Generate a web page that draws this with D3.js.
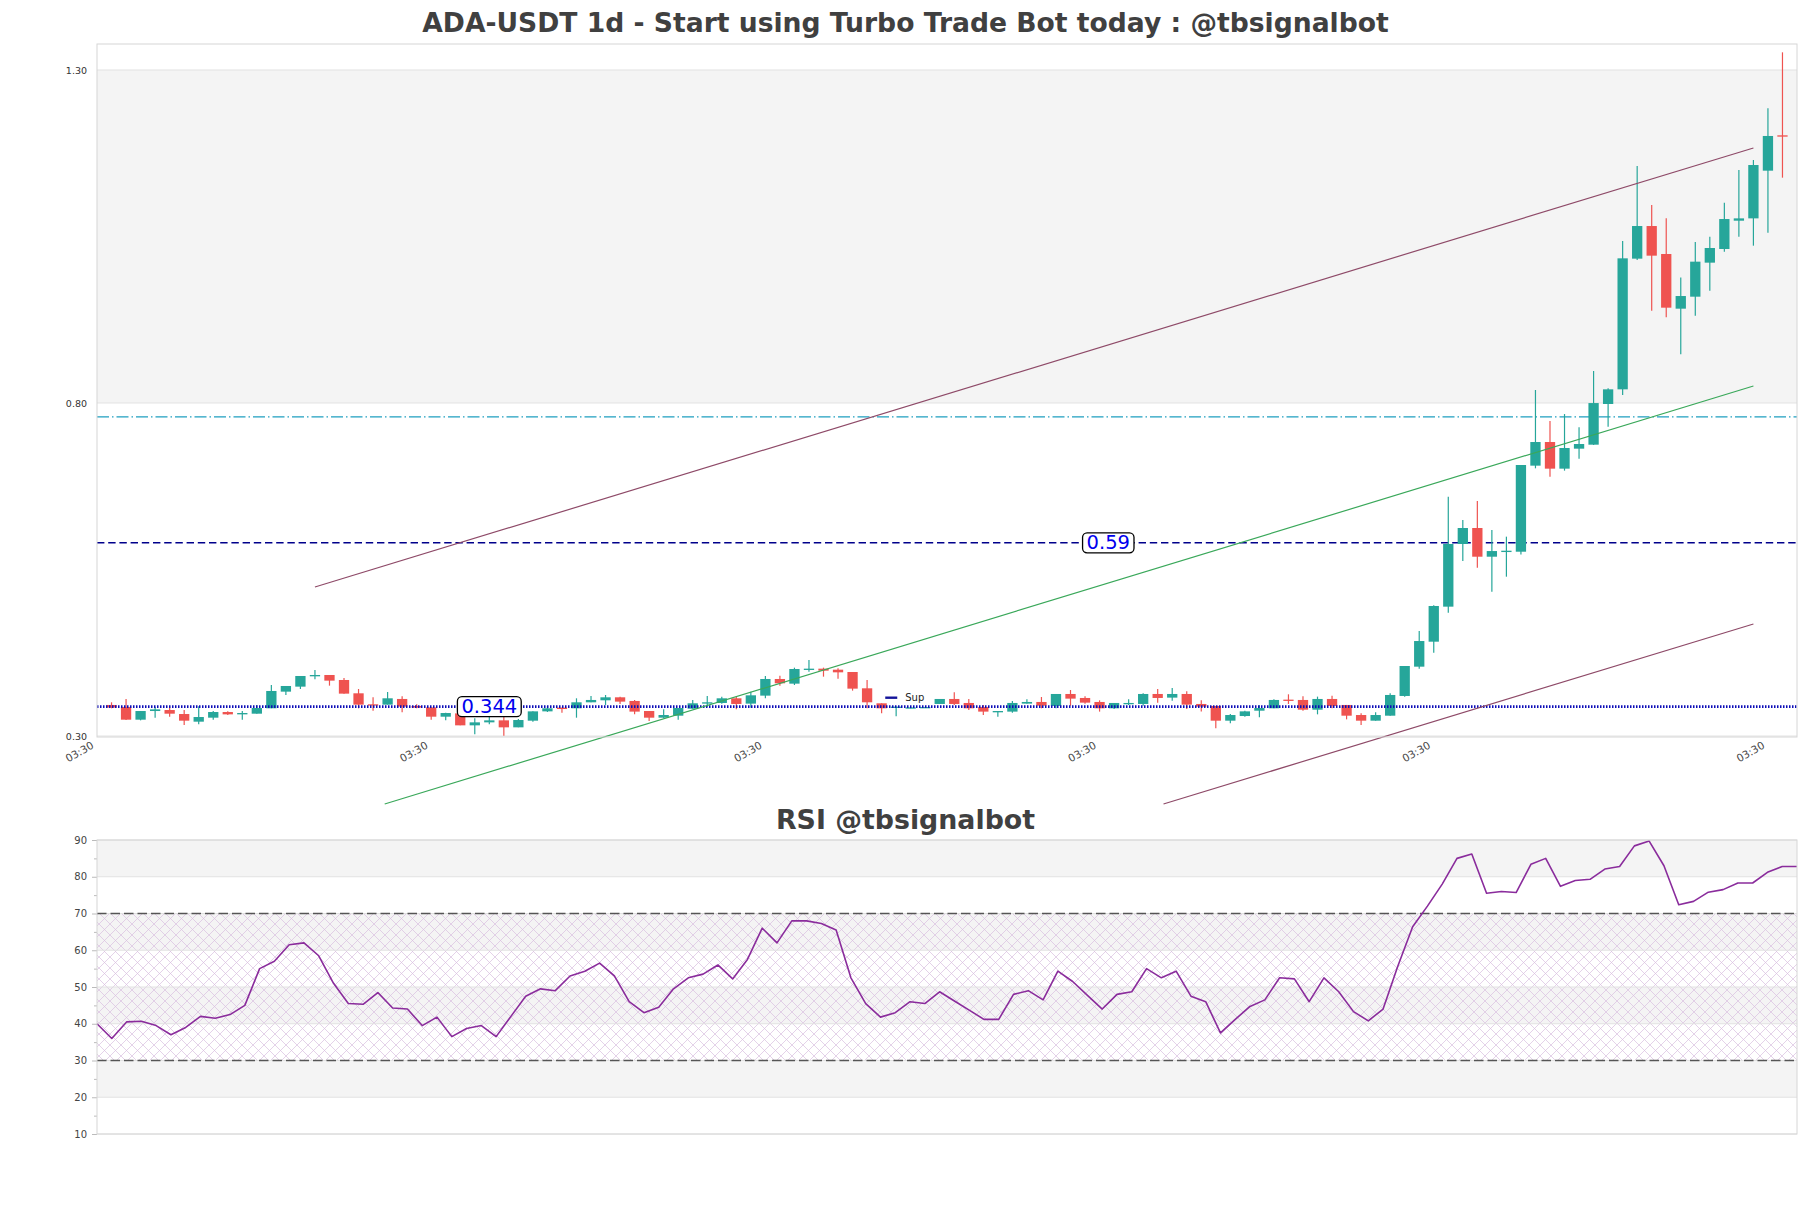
<!DOCTYPE html>
<html><head><meta charset="utf-8">
<script src="https://cdn.jsdelivr.net/npm/d3@7"></script>
<style>
body{margin:0;background:#fff}
svg{display:block}
text{font-family:"DejaVu Sans",sans-serif}
</style>
</head><body>
<svg id="chart" width="1811" height="1208"></svg>
<script>
// ---------------- DATA ----------------
const opens = [0.3466,0.3436,0.3245,0.3375,0.3390,0.3330,0.3215,0.3275,0.3360,0.3325,
0.3335,0.3416,0.3666,0.3741,0.3896,0.3916,0.3841,0.3641,0.3476,0.3471,
0.3556,0.3451,0.3430,0.3290,0.3340,0.3160,0.3205,0.3235,0.3130,0.3230,
0.3370,0.3426,0.3416,0.3506,0.3536,0.3581,0.3526,0.3375,0.3275,0.3305,
0.3410,0.3486,0.3496,0.3566,0.3486,0.3606,0.3856,0.3786,0.3996,0.4011,
0.3996,0.3961,0.3716,0.3491,0.3421,0.3420,0.3430,0.3481,0.3556,0.3496,
0.3436,0.3366,0.3366,0.3486,0.3511,0.3451,0.3631,0.3571,0.3511,0.3416,
0.3481,0.3481,0.3631,0.3576,0.3631,0.3481,0.3451,0.3230,0.3300,0.3380,
0.3416,0.3546,0.3541,0.3395,0.3556,0.3466,0.3315,0.3230,0.3305,0.3601,
0.4041,0.4416,0.4942,0.5883,0.6123,0.5692,0.5762,0.5767,0.7059,0.7414,
0.7014,0.7314,0.7374,0.7985,0.8205,1.0167,1.0657,1.0237,0.9416,0.9596,
1.0107,1.0312,1.0737,1.0772,1.1488,1.2019];
const highs = [0.3506,0.3556,0.3375,0.3435,0.3430,0.3390,0.3445,0.3375,0.3370,0.3375,
0.3466,0.3766,0.3751,0.3901,0.3991,0.3916,0.3871,0.3706,0.3581,0.3661,
0.3596,0.3476,0.3430,0.3350,0.3340,0.3265,0.3300,0.3300,0.3255,0.3370,
0.3451,0.3426,0.3566,0.3601,0.3616,0.3591,0.3541,0.3375,0.3400,0.3420,
0.3541,0.3601,0.3591,0.3591,0.3666,0.3901,0.3906,0.4026,0.4141,0.4026,
0.4016,0.3961,0.3841,0.3491,0.3441,0.3435,0.3440,0.3556,0.3656,0.3556,
0.3466,0.3375,0.3526,0.3551,0.3586,0.3631,0.3691,0.3596,0.3536,0.3496,
0.3551,0.3641,0.3706,0.3721,0.3671,0.3536,0.3451,0.3330,0.3380,0.3461,
0.3551,0.3626,0.3596,0.3591,0.3606,0.3466,0.3341,0.3355,0.3641,0.4051,
0.4576,0.4962,0.6593,0.6243,0.6528,0.6093,0.5993,0.7069,0.8195,0.7729,
0.7834,0.7634,0.8480,0.8220,1.0432,1.1558,1.0973,1.0772,0.9886,1.0417,
1.0497,1.1008,1.1498,1.1648,1.2424,1.3265];
const lows = [0.3416,0.3240,0.3235,0.3275,0.3290,0.3165,0.3175,0.3245,0.3315,0.3245,
0.3335,0.3416,0.3616,0.3706,0.3851,0.3756,0.3636,0.3416,0.3380,0.3471,
0.3355,0.3416,0.3245,0.3235,0.3160,0.3025,0.3175,0.3005,0.3130,0.3215,
0.3360,0.3350,0.3275,0.3506,0.3466,0.3481,0.3325,0.3225,0.3265,0.3245,
0.3410,0.3441,0.3486,0.3400,0.3426,0.3566,0.3756,0.3766,0.3966,0.3891,
0.3861,0.3681,0.3416,0.3341,0.3295,0.3415,0.3420,0.3481,0.3466,0.3391,
0.3315,0.3290,0.3350,0.3486,0.3416,0.3416,0.3455,0.3486,0.3366,0.3405,
0.3466,0.3455,0.3501,0.3531,0.3405,0.3366,0.3116,0.3190,0.3290,0.3280,
0.3416,0.3481,0.3380,0.3325,0.3416,0.3250,0.3165,0.3230,0.3305,0.3591,
0.4011,0.4251,0.4852,0.5627,0.5527,0.5167,0.5392,0.5727,0.7019,0.6894,
0.6984,0.7164,0.7370,0.7644,0.8120,1.0147,0.9386,0.9286,0.8730,0.9311,
0.9686,1.0272,1.0497,1.0362,1.0557,1.1383];
const closes = [0.3426,0.3245,0.3375,0.3400,0.3335,0.3230,0.3285,0.3360,0.3325,0.3345,
0.3420,0.3676,0.3751,0.3901,0.3916,0.3831,0.3636,0.3471,0.3466,0.3566,
0.3441,0.3426,0.3290,0.3345,0.3160,0.3205,0.3235,0.3130,0.3240,0.3370,
0.3416,0.3405,0.3506,0.3541,0.3581,0.3516,0.3366,0.3275,0.3315,0.3420,
0.3491,0.3506,0.3566,0.3481,0.3611,0.3856,0.3791,0.4006,0.4011,0.3981,
0.3956,0.3711,0.3506,0.3416,0.3441,0.3430,0.3435,0.3556,0.3481,0.3416,
0.3366,0.3375,0.3496,0.3511,0.3455,0.3631,0.3561,0.3501,0.3416,0.3496,
0.3496,0.3631,0.3571,0.3631,0.3471,0.3441,0.3230,0.3315,0.3370,0.3420,
0.3541,0.3531,0.3395,0.3556,0.3451,0.3305,0.3230,0.3315,0.3616,0.4051,
0.4426,0.4952,0.5883,0.6123,0.5692,0.5777,0.5782,0.7069,0.7414,0.7014,
0.7324,0.7384,0.7999,0.8205,1.0172,1.0657,1.0212,0.9431,0.9606,1.0122,
1.0327,1.0762,1.0772,1.1573,1.2009,1.1999];

const rsiValues = [40.0,36.0,40.5,40.7,39.5,37.0,39.0,42.0,41.5,42.5,
45.0,55.0,57.0,61.5,62.0,58.5,51.0,45.5,45.3,48.5,
44.3,44.0,39.5,41.8,36.5,38.7,39.5,36.5,42.0,47.5,
49.5,49.0,53.0,54.3,56.5,53.0,46.0,43.0,44.5,49.5,
52.5,53.5,56.0,52.2,57.5,66.0,62.0,68.0,68.0,67.3,
65.5,52.5,45.5,41.8,43.0,46.0,45.5,48.7,46.2,43.7,
41.2,41.2,48.0,49.0,46.5,54.3,51.5,47.7,44.0,48.0,
48.7,55.0,52.5,54.3,47.5,46.0,37.5,41.2,44.7,46.5,
52.5,52.2,46.0,52.5,48.7,43.3,40.8,44.0,55.7,66.4,
72.0,78.0,85.0,86.2,75.5,76.0,75.7,83.4,85.0,77.4,
79.0,79.3,82.1,82.8,88.4,89.7,83.0,72.4,73.3,75.8,
76.5,78.3,78.3,81.2,82.8,82.8];

const priceTicks = [0.30, 0.80, 1.30];
const priceTickLabels = ["0.30", "0.80", "1.30"];
const timeTicks = [-1, 22, 45, 68, 91, 114];
const timeTickLabels = ["03:30", "03:30", "03:30", "03:30", "03:30", "03:30"];
const rsiTicks = [10, 20, 30, 40, 50, 60, 70, 80, 90];
const rsiMinorTicks = [15, 25, 35, 45, 55, 65, 75, 85];

// channel / trend lines: [startIndex, startPrice, endIndex, endPrice]
const upperChannel = [14.0, 0.5237, 113.0, 1.1829];
const lowerChannel = [72.4, 0.1979, 113.0, 0.4682];
const greenTrend = [18.8, 0.1979, 113.0, 0.8255];

const supportLevel = 0.344;
const midLevel = 0.59;
const resistLevel = 0.779;
const supportLabelIndex = 26;
const midLabelIndex = 68.6;
const legendIndex = 53.25;
const legendPrice = 0.3575;

const titleText = "ADA-USDT 1d - Start using Turbo Trade Bot today : @tbsignalbot";
const rsiTitleText = "RSI @tbsignalbot";

// ---------------- DRAW ----------------
const W = 1811, H = 1208;
const svg = d3.select("#chart");
const L = 97, R = 1797, T = 44, B = 737;
const RT = 840, RB = 1134;
const N = opens.length;

const x = d3.scaleLinear().domain([-1, N]).range([L, R]);
const y = d3.scaleLinear().domain([0.2985, 1.339]).range([B, T]);
const xr = d3.scaleLinear().domain([0, N - 1]).range([L, R]);
const yr = d3.scaleLinear().domain([10, 90]).range([RB, RT]);

const defs = svg.append("defs");
const pat = defs.append("pattern").attr("id", "hatch").attr("patternUnits", "userSpaceOnUse")
  .attr("width", 11).attr("height", 11);
pat.append("path").attr("d", "M0,0L11,11M11,0L0,11M-1,10L1,12M10,-1L12,1")
  .attr("stroke", "#d9bfe0").attr("stroke-width", 0.7).attr("fill", "none");

// Titles
svg.append("text").attr("x", W / 2).attr("y", 32).attr("text-anchor", "middle")
  .attr("font-size", 26.6).attr("font-weight", "bold").attr("fill", "#404040").text(titleText);
svg.append("text").attr("x", W / 2).attr("y", 829).attr("text-anchor", "middle")
  .attr("font-size", 26.8).attr("font-weight", "bold").attr("fill", "#404040").text(rsiTitleText);

// ---- Main panel background bands
const main = svg.append("g");
main.append("rect").attr("x", L).attr("width", R - L)
  .attr("y", y(priceTicks[2])).attr("height", y(priceTicks[1]) - y(priceTicks[2]))
  .attr("fill", "#f4f4f4");
priceTicks.forEach(t => {
  main.append("line").attr("x1", L).attr("x2", R).attr("y1", y(t)).attr("y2", y(t))
    .attr("stroke", "#e2e2e2").attr("stroke-width", 1);
});

// y tick labels
const yAxis = d3.axisLeft(y).tickValues(priceTicks).tickSize(0).tickPadding(10)
  .tickFormat((d, i) => priceTickLabels[i]);
const yg = main.append("g").attr("transform", `translate(${L},0)`).call(yAxis);
yg.select(".domain").remove();
yg.selectAll("text").attr("font-size", 9.5).attr("fill", "#333").attr("font-family", "DejaVu Sans");

// x tick labels
const xAxis = d3.axisBottom(x).tickValues(timeTicks).tickSize(0).tickFormat((d, i) => timeTickLabels[i]);
const xg = main.append("g").attr("transform", `translate(0,${B})`).call(xAxis);
xg.select(".domain").remove();
xg.selectAll("text").attr("font-size", 10.5).attr("fill", "#444").attr("font-family", "DejaVu Sans")
  .attr("text-anchor", "end").attr("dy", null).attr("y", 0)
  .attr("dominant-baseline", "central")
  .attr("transform", "translate(-5,7) rotate(-30)");

// horizontal levels
main.append("line").attr("x1", L).attr("x2", R).attr("y1", y(resistLevel)).attr("y2", y(resistLevel))
  .attr("stroke", "#1f9fc0").attr("stroke-width", 1.2).attr("stroke-dasharray", "12,3,1.5,3");
main.append("line").attr("x1", L).attr("x2", R).attr("y1", y(midLevel)).attr("y2", y(midLevel))
  .attr("stroke", "#00008b").attr("stroke-width", 1.5).attr("stroke-dasharray", "7.4,3.8");

// candles
const cw = 10.3;
const candles = main.append("g").selectAll("g").data(d3.range(N)).join("g");
const col = i => closes[i] >= opens[i] ? "#26a69a" : "#ef5350";
candles.append("line")
  .attr("x1", i => x(i)).attr("x2", i => x(i))
  .attr("y1", i => y(highs[i])).attr("y2", i => y(lows[i]))
  .attr("stroke", col).attr("stroke-width", 1.2);
candles.append("rect")
  .attr("x", i => x(i) - cw / 2).attr("width", cw)
  .attr("y", i => y(Math.max(opens[i], closes[i])))
  .attr("height", i => Math.max(1.3, Math.abs(y(opens[i]) - y(closes[i]))))
  .attr("fill", col);

// support dotted line
main.append("line").attr("x1", L).attr("x2", R).attr("y1", y(supportLevel)).attr("y2", y(supportLevel))
  .attr("stroke", "#0c0cb8").attr("stroke-width", 2.8).attr("stroke-dasharray", "1.5,1.5");

// trend lines (not clipped)
function tline(a, color) {
  main.append("line").attr("x1", x(a[0])).attr("y1", y(a[1])).attr("x2", x(a[2])).attr("y2", y(a[3]))
    .attr("stroke", color).attr("stroke-width", 1.2);
}
tline(upperChannel, "#8e4a68");
tline(lowerChannel, "#8e4a68");
tline(greenTrend, "#3aa85a");

// frame
main.append("rect").attr("x", L).attr("y", T).attr("width", R - L).attr("height", B - T)
  .attr("fill", "none").attr("stroke", "#d6d6d6").attr("stroke-width", 1);

// level labels
function levelLabel(idx, val, txt) {
  const g = main.append("g");
  const t = g.append("text").attr("x", x(idx)).attr("y", y(val)).attr("text-anchor", "middle")
    .attr("dominant-baseline", "central").attr("font-size", 19.5).attr("fill", "#0000ee").text(txt);
  const bb = t.node().getBBox();
  g.insert("rect", "text").attr("x", bb.x - 4).attr("y", y(val) - 10).attr("width", bb.width + 8)
    .attr("height", 20).attr("rx", 4.5).attr("fill", "#fff").attr("stroke", "#000").attr("stroke-width", 1.3);
}
levelLabel(supportLabelIndex, supportLevel, "0.344");
levelLabel(midLabelIndex, midLevel, "0.59");

// legend
const lg = main.append("g");
lg.append("line").attr("x1", x(legendIndex)).attr("x2", x(legendIndex) + 12)
  .attr("y1", y(legendPrice)).attr("y2", y(legendPrice))
  .attr("stroke", "#14149a").attr("stroke-width", 2.4);
lg.append("text").attr("x", x(legendIndex) + 20).attr("y", y(legendPrice)).attr("dominant-baseline", "central")
  .attr("font-size", 10).attr("fill", "#222").text("Sup");

// ---- RSI panel
const rp = svg.append("g");
[[80, 90], [60, 70], [40, 50], [20, 30]].forEach(b => {
  rp.append("rect").attr("x", L).attr("width", R - L).attr("y", yr(b[1])).attr("height", yr(b[0]) - yr(b[1]))
    .attr("fill", "#f4f4f4");
});
rp.append("rect").attr("x", L).attr("width", R - L).attr("y", yr(70)).attr("height", yr(30) - yr(70))
  .attr("fill", "url(#hatch)");
rsiTicks.forEach(t => {
  rp.append("line").attr("x1", L).attr("x2", R).attr("y1", yr(t)).attr("y2", yr(t))
    .attr("stroke", "#e2e2e2").attr("stroke-width", 1);
});
[30, 70].forEach(t => {
  rp.append("line").attr("x1", L).attr("x2", R).attr("y1", yr(t)).attr("y2", yr(t))
    .attr("stroke", "#555").attr("stroke-width", 1.3).attr("stroke-dasharray", "9.5,4");
});
const ryAxis = d3.axisLeft(yr).tickValues(rsiTicks).tickSize(5).tickPadding(5);
const ryg = rp.append("g").attr("transform", `translate(${L},0)`).call(ryAxis);
ryg.select(".domain").remove();
ryg.selectAll("line").attr("stroke", "#bbb");
ryg.selectAll("text").attr("font-size", 10).attr("fill", "#444").attr("font-family", "DejaVu Sans");
const rmAxis = d3.axisLeft(yr).tickValues(rsiMinorTicks).tickSize(3).tickFormat("");
const rmg = rp.append("g").attr("transform", `translate(${L},0)`).call(rmAxis);
rmg.select(".domain").remove();
rmg.selectAll("line").attr("stroke", "#bbb");

rp.append("path").datum(rsiValues)
  .attr("d", d3.line().x((d, i) => xr(i)).y(d => yr(d)))
  .attr("fill", "none").attr("stroke", "#8a2c9c").attr("stroke-width", 1.6).attr("stroke-linejoin", "round");

rp.append("rect").attr("x", L).attr("y", RT).attr("width", R - L).attr("height", RB - RT)
  .attr("fill", "none").attr("stroke", "#d6d6d6").attr("stroke-width", 1);
</script>
</body></html>
